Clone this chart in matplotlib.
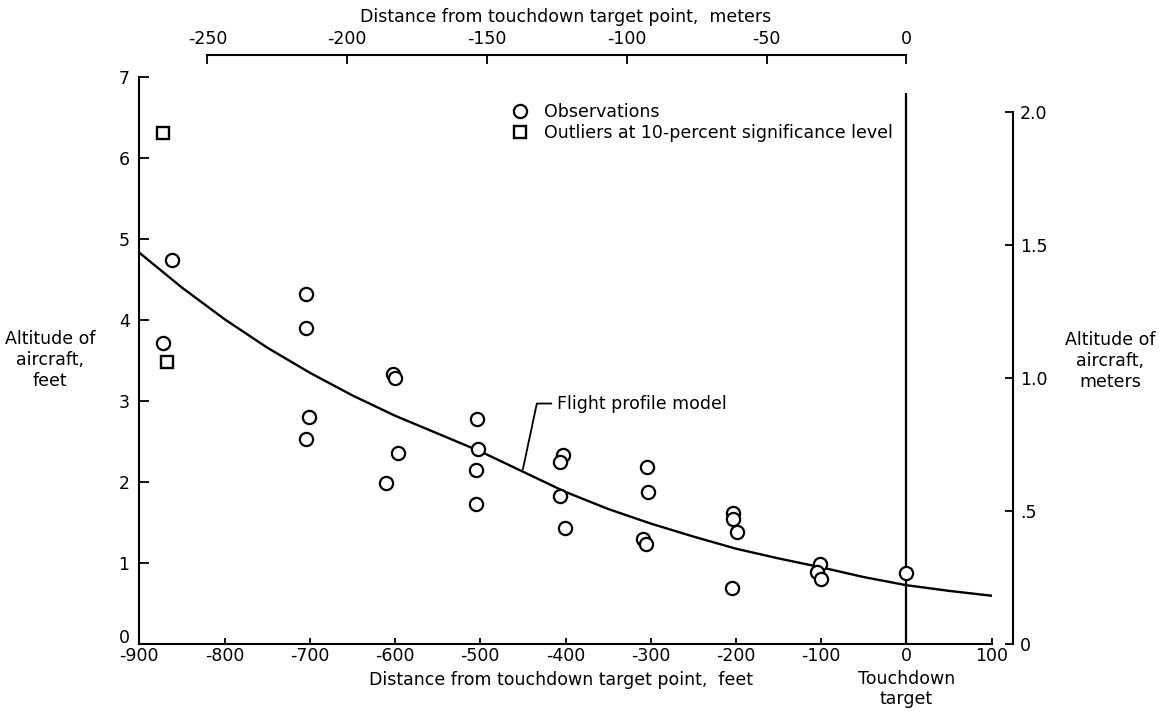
import matplotlib
matplotlib.use("Agg")
import matplotlib.pyplot as plt
from matplotlib.lines import Line2D
from matplotlib.transforms import ScaledTranslation

plt.rcParams['font.family'] = ['DejaVu Sans']
FS = 12.5

FT_PER_M = 3.2808

# Observations (distance ft, altitude ft)
obs_x = [-862, -872, -704, -704, -602, -600, -701, -704, -596, -610,
         -504, -503, -505, -505, -403, -407, -407, -401,
         -304, -303, -309, -305, -204, -203, -199, -205,
         -101, -105, -100, 0]
obs_y = [4.74, 3.72, 4.32, 3.90, 3.34, 3.29, 2.81, 2.53, 2.36, 1.99,
         2.78, 2.41, 2.15, 1.73, 2.33, 2.25, 1.83, 1.44,
         2.19, 1.88, 1.30, 1.24, 1.62, 1.55, 1.38, 0.69,
         0.99, 0.89, 0.81, 0.88]

# Outliers at 10-percent significance level
out_x = [-872, -868]
out_y = [6.31, 3.48]

# Flight profile model
model_x = [-900, -850, -800, -750, -700, -650, -600, -550, -500, -450, -400,
           -350, -300, -250, -200, -150, -100, -50, 0, 50, 100]
model_y = [4.83, 4.40, 4.01, 3.66, 3.35, 3.07, 2.82, 2.60, 2.38, 2.13, 1.88,
           1.67, 1.49, 1.33, 1.18, 1.06, 0.95, 0.83, 0.73, 0.66, 0.60]

x_ticks = [-900, -800, -700, -600, -500, -400, -300, -200, -100, 0, 100]
x_tick_labels = ["-900", "-800", "-700", "-600", "-500", "-400", "-300",
                 "-200", "-100", "0", "100"]
y_ticks = [0, 1, 2, 3, 4, 5, 6, 7]
y_tick_labels = ["0", "1", "2", "3", "4", "5", "6", "7"]
m_x_ticks = [-250, -200, -150, -100, -50, 0]
m_x_tick_labels = ["-250", "-200", "-150", "-100", "-50", "0"]
m_y_ticks = [0, 0.5, 1.0, 1.5, 2.0]
m_y_tick_labels = ["0", ".5", "1.0", "1.5", "2.0"]

touchdown_x = 0
touchdown_top = 6.8
annot_xy = (-450, 2.16)
annot_text_xy = (-410, 2.97)

W, H = 1159, 712
fig = plt.figure(figsize=(W / 100, H / 100), dpi=100)
ax_l, ax_r, ax_b, ax_t = 139.3, 991.7, 644.4, 76.7
ax = fig.add_axes([ax_l / W, (H - ax_b) / H, (ax_r - ax_l) / W, (ax_b - ax_t) / H])
ax.set_xlim(-900, 100)
ax.set_ylim(0, 7)

for s in ("top", "right"):
    ax.spines[s].set_visible(False)
for s in ("left", "bottom"):
    ax.spines[s].set_linewidth(1.5)

ax.set_xticks(x_ticks)
ax.set_xticklabels(x_tick_labels, fontsize=FS)
ax.set_yticks(y_ticks)
ax.set_yticklabels(y_tick_labels, fontsize=FS)
ax.tick_params(axis="x", direction="in", length=4.5, width=1.3, pad=2)
ax.tick_params(axis="y", direction="in", length=7, width=1.3, pad=7)

# lift the "0" label of the feet axis a little, as in the original
zero_lbl = ax.get_yticklabels()[0]
zero_lbl.set_transform(zero_lbl.get_transform() + ScaledTranslation(0, 6 / 72, fig.dpi_scale_trans))

# model curve
ax.plot(model_x, model_y, color="black", lw=1.7, zorder=3)
# touchdown line
ax.vlines(touchdown_x, 0, touchdown_top, color="black", lw=1.6, zorder=2)
# observations
ax.plot(obs_x, obs_y, linestyle="none", marker="o", ms=9.5, mfc="white",
        mec="black", mew=1.6, zorder=4)
ax.plot(out_x, out_y, linestyle="none", marker="s", ms=8.5, mfc="white",
        mec="black", mew=1.7, zorder=4)

# legend
handles = [
    Line2D([], [], linestyle="none", marker="o", ms=9.5, mfc="white", mec="black", mew=1.6),
    Line2D([], [], linestyle="none", marker="s", ms=8.5, mfc="white", mec="black", mew=1.7),
]
ax.legend(handles, ["Observations", "Outliers at 10-percent significance level"],
          loc="upper left", bbox_to_anchor=((511.7 - ax_l) / (ax_r - ax_l), (ax_b - 103) / (ax_b - ax_t)),
          frameon=False, fontsize=FS, handlelength=1.0, handletextpad=0.85,
          borderpad=0, borderaxespad=0, labelspacing=0.2)

# annotation
ax.annotate("Flight profile model", xy=annot_xy, xytext=annot_text_xy,
            ha="left", va="center", fontsize=FS,
            arrowprops=dict(arrowstyle="-", connectionstyle="angle,angleA=0,angleB=78,rad=0",
                            relpos=(0, 0.5), shrinkA=2, shrinkB=0, lw=1.3, color="black"))

# axis labels
ax.set_xlabel("Distance from touchdown target point,  feet", fontsize=FS, va="center")
ax.xaxis.set_label_coords((561 - ax_l) / (ax_r - ax_l), -(680 - ax_b) / (ax_b - ax_t))
ax.set_ylabel("Altitude of\naircraft,\nfeet", fontsize=FS, rotation=0, ha="center", va="center")
ax.yaxis.set_label_coords((50 - ax_l) / (ax_r - ax_l), (ax_b - 360) / (ax_b - ax_t))

ax.text(touchdown_x, -(689 - ax_b) / (ax_b - ax_t), "Touchdown\ntarget", fontsize=FS,
        ha="center", va="center", transform=ax.get_xaxis_transform())

# secondary axes (meters)
ft2m = (lambda v: v / FT_PER_M, lambda v: v * FT_PER_M)
secy = ax.secondary_yaxis((1013 - ax_l) / (ax_r - ax_l), functions=ft2m)
secy.set_yticks(m_y_ticks)
secy.set_yticklabels(m_y_tick_labels, fontsize=FS)
secy.tick_params(axis="y", direction="in", length=6, width=1.3, pad=5)
secy.spines["right"].set_bounds(0, 2.0)
secy.spines["right"].set_linewidth(1.5)
secy.set_ylabel("Altitude of\naircraft,\nmeters", fontsize=FS, rotation=0, ha="center", va="center")
secy.yaxis.set_label_coords((1110 - ax_l) / (ax_r - ax_l), (ax_b - 361) / (ax_b - ax_t),
                            transform=ax.transAxes)

secx = ax.secondary_xaxis((ax_b - 55) / (ax_b - ax_t), functions=ft2m)
secx.set_xticks(m_x_ticks)
secx.set_xticklabels(m_x_tick_labels, fontsize=FS)
secx.tick_params(axis="x", direction="in", length=6.5, width=1.3, pad=5)
secx.spines["top"].set_bounds(-250, 0)
secx.spines["top"].set_linewidth(1.5)
secx.set_xlabel("Distance from touchdown target point,  meters", fontsize=FS, labelpad=6)

fig.savefig("out.png", dpi=100)
